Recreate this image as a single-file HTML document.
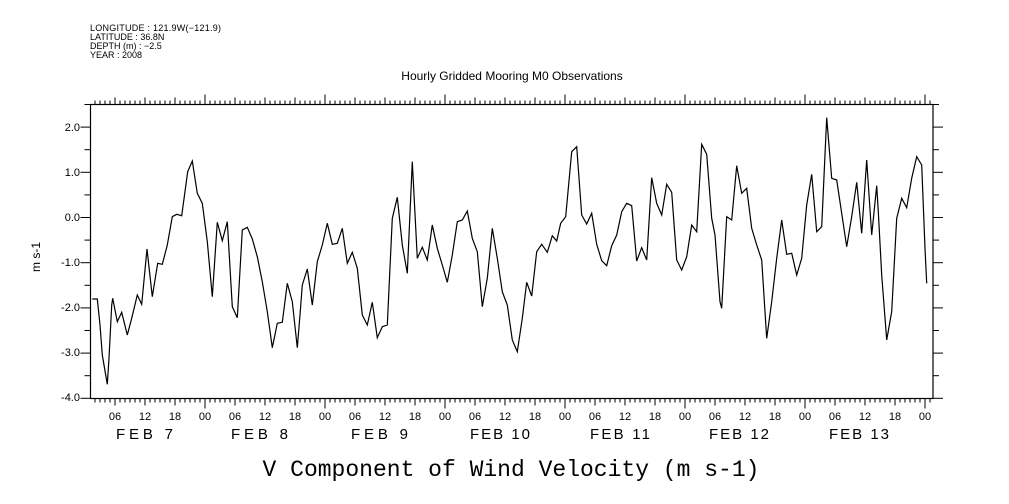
<!DOCTYPE html>
<html><head><meta charset="utf-8"><style>
html,body{margin:0;padding:0;background:#fff;}
svg{display:block;}
text{font-family:"Liberation Sans",sans-serif;fill:#000;}
</style></head><body>
<svg width="1009" height="504" viewBox="0 0 1009 504" xmlns="http://www.w3.org/2000/svg">
<g font-size="9">
<text x="90" y="31" textLength="131">LONGITUDE : 121.9W(−121.9)</text>
<text x="90" y="40">LATITUDE : 36.8N</text>
<text x="90" y="49">DEPTH (m) : −2.5</text>
<text x="90" y="58">YEAR : 2008</text>
</g>
<text x="512" y="80" font-size="12" text-anchor="middle">Hourly Gridded Mooring M0 Observations</text>
<rect x="90.5" y="104.5" width="842.5" height="294" fill="none" stroke="#000" stroke-width="1.2"/>
<g id="ticks" stroke="#000" stroke-width="1"></g>
<g font-size="11" text-anchor="end">
<text x="80" y="131">2.0</text><text x="80" y="176">1.0</text><text x="80" y="221">0.0</text>
<text x="80" y="266">-1.0</text><text x="80" y="311">-2.0</text><text x="80" y="356">-3.0</text><text x="80" y="401">-4.0</text>
</g>
<text transform="translate(40,257) rotate(-90)" font-size="12" text-anchor="middle">m s-1</text>
<g id="xl" font-size="11" text-anchor="middle"></g>
<g font-size="15">
<text x="116" y="439" textLength="57">FEB  7</text><text x="231" y="439" textLength="57">FEB  8</text><text x="351" y="439" textLength="57">FEB  9</text>
<text x="470" y="439" textLength="60">FEB 10</text><text x="590" y="439" textLength="60">FEB 11</text><text x="709" y="439" textLength="60">FEB 12</text><text x="829" y="439" textLength="60">FEB 13</text>
</g>
<text x="511" y="476" font-size="23" text-anchor="middle" style="font-family:'Liberation Mono',monospace">V Component of Wind Velocity (m s-1)</text>
<polyline fill="none" stroke="#000" stroke-width="1.2" points="92.3,299 97.3,299 100,325 102.3,355 105.7,375 107.3,384.3 109,358.3 111.7,305 112.7,298.3 117.3,321.7 121.7,312.3 127.3,335 131.7,318.3 137.3,295 141.7,304.3 147,249 152.3,296.7 157.7,263.3 162.3,264.3 167.3,245 172.3,216.7 176.7,214.3 181.7,215.7 187.7,171.7 192.3,161 197.3,193.3 202.3,203.3 207.3,241.7 212.3,296.7 217.3,222.3 222.3,240.7 227.3,221.7 232.3,306.7 237.3,317.7 242.3,230 247.3,227.3 252.3,239 257.3,256.7 262.3,281.7 267.3,311.7 272.3,347.7 277.3,323.3 282.3,322.3 287.3,283.3 292.3,301.7 297.3,347.7 300,315 302.3,285 307.3,269 312.3,305 317.3,261.7 322.3,245 327.3,223.3 332.3,244.3 337.3,243.3 342.3,228.3 347.3,263.3 352.3,252.3 357.3,268.3 362.3,315 367.3,325 372.3,302.3 377.3,337.7 382.3,326.7 387.3,325 392.3,218.3 397.3,197.3 402.3,245 407.3,273.3 412.3,161.7 417.3,258.3 422.3,247.3 427.3,260 432.3,225 437.3,248.3 442.3,265 447.3,282.3 452.3,255 457.3,221.7 462.3,220 467.3,211 472.3,238.3 477.3,251.7 482.3,306.7 487.3,278.3 492.3,228.3 497.3,258.3 502.3,291.7 505,299 507.3,305 512.3,340 517.3,351.7 522.3,318.3 526.7,282.3 531.7,296 536.7,251.7 541.7,244.3 547.3,252.3 552.3,235.7 556.7,241 560.7,223.3 565.7,216.7 571.7,151.7 576.7,146.7 581.7,215 586.7,224 591.7,213.3 596.7,244.3 601.7,260.7 606.7,265.7 611.7,245.7 616.7,235 621.7,211.7 626.7,203.3 631.7,205.7 636.7,261 641.7,247.7 646.7,260 651.7,177.7 656.7,203.3 661.7,215 666.7,184.3 671.7,192.3 676.7,260 681.7,270 686.7,256.7 691.7,225 696.7,231.7 701.7,144.3 706.7,154.3 711.7,218.3 715,235 720,301.7 721.7,308.3 726.7,216.7 731.7,220 736.7,165.7 741.7,193.3 746.7,188.3 751.7,228.3 756.7,245 761.7,260 766.7,338.3 771.7,301.7 776.7,258.3 781.7,220 786.7,254.3 791.7,253.3 796.7,275 801.7,258.3 806.7,205 811.7,174.3 816.7,231.7 821.7,226.7 826.7,117.7 831.7,178.3 836.7,180 841.7,213.3 846.7,246.7 851.7,216.7 856.7,182.3 861.7,233.3 866.7,160 871.7,235 876.7,185.7 878.3,211.7 881.7,275 886.7,340 891.7,311.7 896.7,218.3 901.7,198.3 906.7,207.7 911.7,178.3 916.7,156.7 921.7,165 925,248.3 926.7,283.3"/>
</svg>
<script>
(function(){
var ns="http://www.w3.org/2000/svg",g=document.getElementById("ticks"),xl=document.getElementById("xl");
function ln(x1,y1,x2,y2){var l=document.createElementNS(ns,"line");l.setAttribute("x1",x1);l.setAttribute("y1",y1);l.setAttribute("x2",x2);l.setAttribute("y2",y2);g.appendChild(l);}
for(var h=-22;h<=145;h++){var x=205+5*h;if(x<91||x>933)continue;var L=4;if(h%6==0)L=7;if(h%24==0)L=10;
ln(x,104.5,x,104.5-L);ln(x,398.5,x,398.5+L);
if(h%6==0){var t=document.createElementNS(ns,"text");t.setAttribute("x",x);t.setAttribute("y",420);var hh=((h%24)+24)%24;t.textContent=(hh<10?"0":"")+hh;xl.appendChild(t);}}
for(var i=0;i<=13;i++){var y=104.5+22.6*i;var L=(i%2==1)?10:6;
ln(90.5,y,90.5-L,y);ln(933,y,933+L,y);}
})();
</script>
</body></html>
